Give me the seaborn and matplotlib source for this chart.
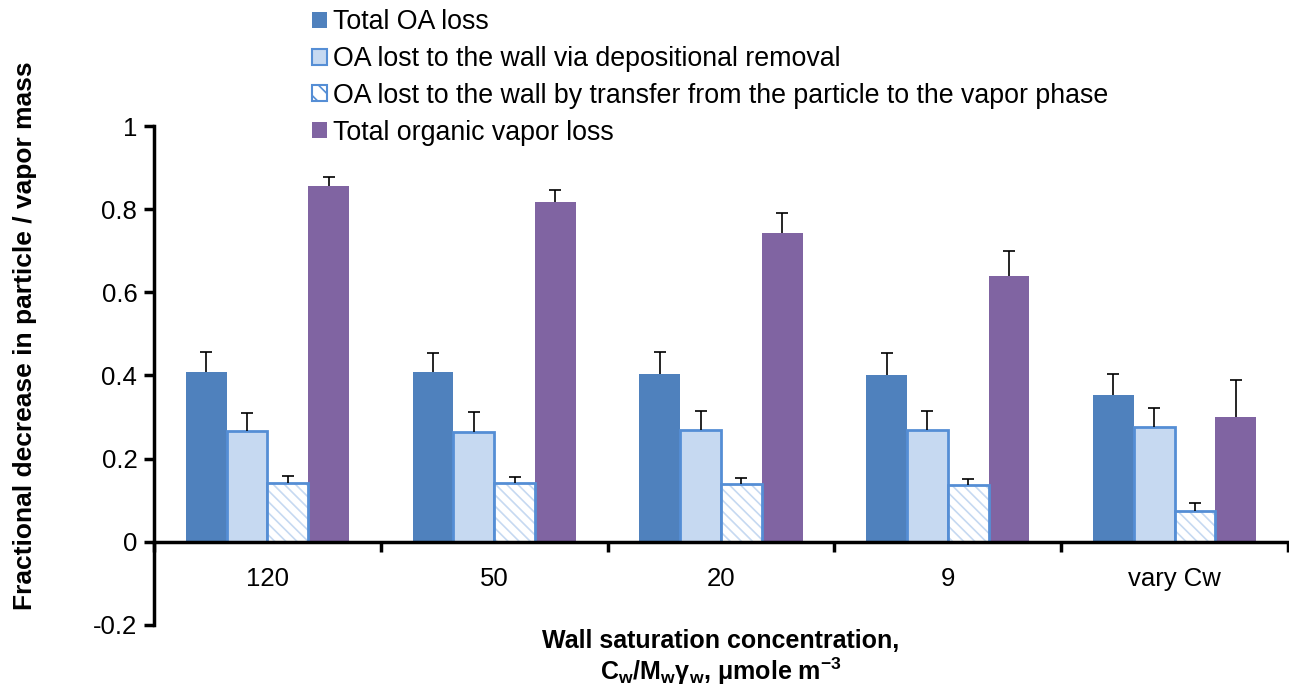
import numpy as np
import pandas as pd
import matplotlib
matplotlib.use("Agg")
import matplotlib.pyplot as plt
import seaborn as sns
from matplotlib.patches import Patch, Rectangle
from matplotlib.ticker import FixedLocator, NullFormatter

# ---- data ----
categories = ["120", "50", "20", "9", "vary Cw"]
series_names = [
    "Total OA loss",
    "OA lost to the wall via depositional removal",
    "OA lost to the wall by transfer from the particle to the vapor phase",
    "Total organic vapor loss",
]
total_oa = [0.409, 0.409, 0.404, 0.401, 0.352]
depositional = [0.267, 0.264, 0.269, 0.269, 0.277]
transfer = [0.142, 0.142, 0.139, 0.137, 0.075]
vapor = [0.856, 0.817, 0.743, 0.639, 0.300]

err_total_oa = [0.048, 0.045, 0.053, 0.053, 0.051]
err_depositional = [0.043, 0.049, 0.046, 0.046, 0.046]
err_transfer = [0.017, 0.015, 0.015, 0.014, 0.018]
err_vapor = [0.021, 0.029, 0.047, 0.061, 0.088]

yticks = [-0.2, 0, 0.2, 0.4, 0.6, 0.8, 1.0]
ytick_labels = ["-0.2", "0", "0.2", "0.4", "0.6", "0.8", "1"]

values = [total_oa, depositional, transfer, vapor]
errors = [err_total_oa, err_depositional, err_transfer, err_vapor]

rows = []
for name, vals in zip(series_names, values):
    for c, v in zip(categories, vals):
        rows.append({"cat": c, "val": v, "series": name})
df = pd.DataFrame(rows)

# ---- style ----
sns.set_style("white")
plt.rcParams["font.family"] = ["Liberation Sans", "DejaVu Sans"]
plt.rcParams["text.color"] = "black"
plt.rcParams["axes.labelcolor"] = "black"
plt.rcParams["xtick.color"] = "black"
plt.rcParams["ytick.color"] = "black"
plt.rcParams["axes.edgecolor"] = "black"
plt.rcParams["mathtext.fontset"] = "custom"
plt.rcParams["mathtext.rm"] = "Liberation Sans:bold"
plt.rcParams["mathtext.bf"] = "Liberation Sans:bold"
plt.rcParams["mathtext.it"] = "Liberation Sans:bold"
plt.rcParams["mathtext.default"] = "bf"
plt.rcParams["hatch.linewidth"] = 1.2

FS = 18.5

c_total = "#4f81bd"
c_dep_fill = "#c6d9f1"
c_edge = "#558ed5"
c_vapor = "#8064a2"
palette = [c_total, c_dep_fill, "white", c_vapor]

fig = plt.figure(figsize=(12.89, 6.93), dpi=100)
ax = fig.add_axes([154 / 1289, 1 - 625 / 693, (1288 - 154) / 1289, (625 - 126) / 693])

sns.barplot(data=df, x="cat", y="val", hue="series", hue_order=series_names,
            order=categories, palette=palette, width=0.72, errorbar=None,
            saturation=1, legend=False, ax=ax, linewidth=0)

bar_containers = list(ax.containers)

# style containers
for i, cont in enumerate(bar_containers):
    for p in cont:
        if i == 1:
            p.set_edgecolor(c_edge)
            p.set_linewidth(2.0)
        elif i == 2:
            p.set_facecolor("white")
            p.set_edgecolor(c_dep_fill)
            p.set_hatch("\\" * 3)
            p.set_linewidth(0)
            ax.add_patch(Rectangle(p.get_xy(), p.get_width(), p.get_height(),
                                   fill=False, edgecolor=c_edge, linewidth=2.0,
                                   zorder=p.get_zorder() + 0.1))

# error bars (upper only)
for i, cont in enumerate(bar_containers):
    xs = [p.get_x() + p.get_width() / 2 for p in cont]
    eb = ax.errorbar(xs, values[i], yerr=[np.zeros(len(xs)), errors[i]], fmt="none",
                     ecolor="black", elinewidth=1.2, capsize=4.5, capthick=1.2, zorder=5)
    caplines = eb[1]
    if len(caplines) == 2:
        caplines[0].set_visible(False)

# axes
ax.set_ylim(-0.2, 1.0)
ax.set_xlim(-0.5, len(categories) - 0.5)
ax.set_yticks(yticks)
ax.set_yticklabels(ytick_labels, fontsize=FS)
for s in ["top", "right"]:
    ax.spines[s].set_visible(False)
ax.spines["left"].set_linewidth(2.5)
ax.spines["bottom"].set_linewidth(2.5)
ax.spines["bottom"].set_position(("data", 0))
ax.tick_params(axis="y", direction="out", length=7, width=2.5, left=True, pad=5)

ax.xaxis.set_major_locator(FixedLocator(np.arange(len(categories) + 1) - 0.5))
ax.xaxis.set_major_formatter(NullFormatter())
ax.set_xticks(np.arange(len(categories)), minor=True)
ax.set_xticklabels(categories, minor=True, fontsize=FS)
ax.tick_params(axis="x", which="major", direction="out", length=7, width=2.5, bottom=True)
ax.tick_params(axis="x", which="minor", length=0, pad=18)

ax.set_xlabel("Wall saturation concentration,\n$C_w/M_w\\gamma_w$, \u03bcmole m$^{-3}$",
              fontsize=18, fontweight="bold", linespacing=1.1)
ax.xaxis.set_label_coords(0.5, -0.008)
ax.xaxis.label.set_va("top")
ax.set_ylabel("Fractional decrease in particle / vapor mass", fontsize=19,
              fontweight="bold")
ax.yaxis.set_label_coords(-0.103, 0.579)

# legend
handles = [
    Patch(facecolor=c_total, edgecolor=c_total, linewidth=0),
    Patch(facecolor=c_dep_fill, edgecolor=c_edge, linewidth=1.5),
    Patch(facecolor="white", edgecolor=c_edge, linewidth=1.5, hatch="\\\\"),
    Patch(facecolor=c_vapor, edgecolor=c_vapor, linewidth=0),
]
leg = fig.legend(handles, series_names, loc="upper left",
                 bbox_to_anchor=(299 / 1289, 1 + 4 / 693), frameon=False,
                 fontsize=19.3, handlelength=0.55, handleheight=0.55,
                 handletextpad=0.2, labelspacing=0.4, borderpad=0.0)

fig.savefig("out.png", dpi=100)
